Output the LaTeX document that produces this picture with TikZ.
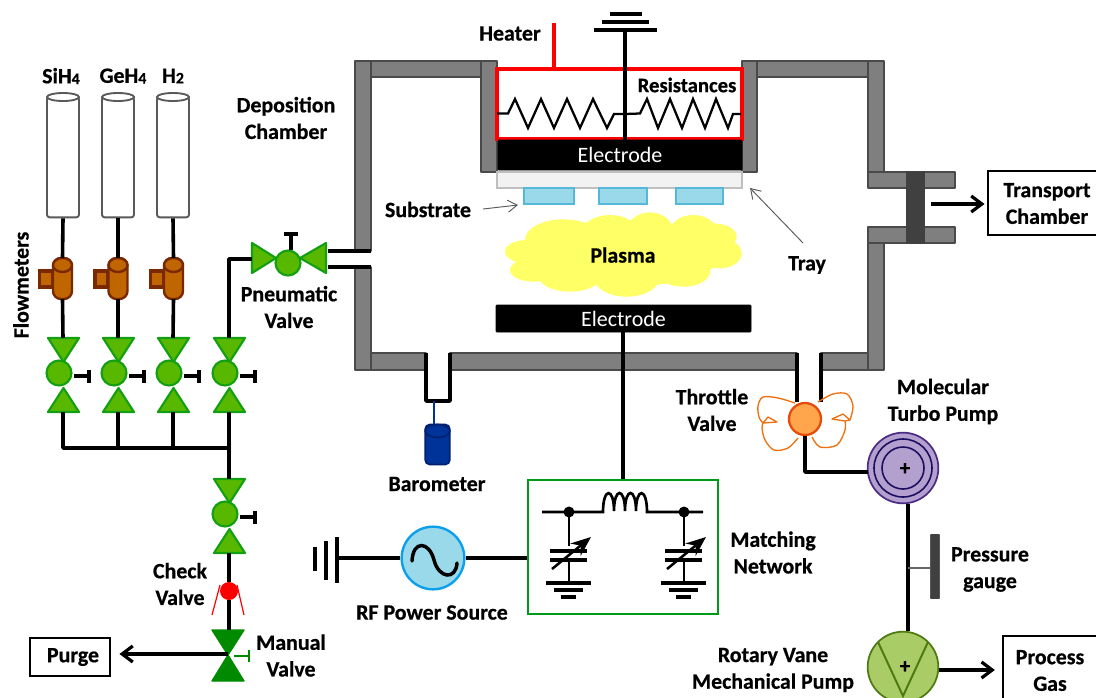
\documentclass[tikz,border=0pt]{standalone}
\usepackage{fontspec}
\setmainfont{Carlito}[BoldFeatures={FakeBold=0.6}]
\usetikzlibrary{arrows.meta,shapes.geometric,positioning,calc}
\definecolor{wallf}{HTML}{7F7F7F}
\definecolor{walld}{HTML}{4A4A4A}
\definecolor{gatef}{HTML}{404040}
\definecolor{vfill}{HTML}{58B800}
\definecolor{vline}{HTML}{12A012}
\definecolor{mgreen}{HTML}{008A00}
\definecolor{fmf}{HTML}{BF6600}
\definecolor{fmd}{HTML}{7A2800}
\definecolor{sky}{HTML}{99D9EA}
\definecolor{skyd}{HTML}{55B8D8}
\definecolor{rfl}{HTML}{0CA0EC}
\definecolor{plasma}{HTML}{FFFF66}
\definecolor{boxg}{HTML}{009A1A}
\definecolor{purpf}{HTML}{B4A0CF}
\definecolor{purpd}{HTML}{4B2E83}
\definecolor{purpi}{HTML}{1D0F5F}
\definecolor{ropf}{HTML}{A9CC66}
\definecolor{ropd}{HTML}{4E7A12}
\definecolor{thrf}{HTML}{FFA64D}
\definecolor{thrd}{HTML}{E84A0C}
\definecolor{thrw}{HTML}{F07010}
\definecolor{barof}{HTML}{003399}
\definecolor{barod}{HTML}{002070}
\newcommand{\subn}[1]{\raisebox{-0.5pt}{\fontsize{12}{12}\selectfont #1}}
\tikzset{
  x=0.75pt,y=-0.75pt,
  conn/.style={draw=black,line width=2.7pt,line join=round},
  wall/.style={fill=wallf,draw=walld,line width=1.2pt,line join=round},
  gate/.style={fill=gatef,draw=gatef,line width=0.8pt},
  vlv/.style={fill=vfill,draw=vline,line width=1.6pt,line join=round},
  mvlv/.style={fill=mgreen,draw=mgreen,line width=1pt,line join=round},
  fm/.style={fill=fmf,draw=fmd,line width=1.8pt},
  lab/.style={font=\bfseries\fontsize{16.4}{20}\selectfont,align=center,inner sep=0pt,text=black},
  elec/.style={fill=black,draw=black,text=white,font=\fontsize{16.5}{20}\selectfont,inner sep=0pt,rounded corners=0.5pt},
  boxn/.style={draw=black,line width=1.2pt,fill=white,inner sep=0pt,align=center,font=\bfseries\fontsize{16.4}{20}\selectfont},
  sub/.style={fill=sky,draw=skyd,line width=1.3pt,minimum height=12pt,inner sep=0pt},
  cylb/.style={fill=white,draw=black!65,line width=1.4pt,minimum width=24pt,minimum height=90.5pt,inner sep=0pt,rounded corners=2pt},
  barb/.style={-{Straight Barb[length=8pt,width=12pt,line width=2.4pt]}},
  fine/.style={draw=black!65,line width=0.7pt,-{Straight Barb[length=7pt,width=9pt,line width=0.7pt]}},
  valve/.pic={
    \draw[vlv] (-15,0)--(16,0)--(0.5,24)--cycle;
    \draw[vlv] (-15,74)--(16,74)--(0.5,50)--cycle;
    \draw[vlv] (-4,35) circle (12.5);
    \draw[conn] (11,38)--(26,38);
    \draw[conn] (26,32)--(26,45);
    \coordinate (-top) at (0,0);
    \coordinate (-bot) at (0,74);
  },
  flowm/.pic={
    \draw[fm,line width=2.6pt] (-23,13) rectangle (-10,29);
    \draw[fm,rounded corners=6pt] (-9.5,0) rectangle (9.5,41);
    \draw[fm] (0,7) ellipse (9.5 and 7);
    \coordinate (-top) at (0,0);
    \coordinate (-bot) at (0,41);
  },
  capgnd/.pic={
    \draw[line width=2.1pt] (0,0)--(0,34);
    \draw[line width=2.1pt] (0,48)--(0,71);
    \draw[line width=3.2pt] (-19,39)--(18,39);
    \draw[line width=3.2pt] (-19,48)--(18,48);
    \draw[line width=3.2pt] (-23,71)--(22,71);
    \draw[line width=3.2pt] (-15,78)--(14,78);
    \draw[line width=3.2pt] (-8,85)--(7,85);
    \draw[line width=1.9pt,-{Stealth[length=15pt,width=12pt]}] (-17,57)--(22,25);
    \fill (0,0) circle (5.5);
  },
}
\begin{document}
\begin{tikzpicture}
\useasboundingbox (0,0) rectangle (1096,697);
\clip (0,0) rectangle (1096,697);
\fill[white] (0,0) rectangle (1096,697);

% chamber walls
\draw[wall] (371,61) rectangle (481,77);
\draw[wall] (757,61) rectangle (868,77);
\draw[wall] (355,61) rectangle (371,251);
\draw[wall] (355,267) rectangle (371,370);
\draw[wall] (481,61) rectangle (497,172);
\draw[wall] (742,61) rectangle (757,172);
\draw[wall] (868,61) rectangle (884,172);
\draw[wall] (868,243) rectangle (884,370);
\draw[wall] (371,353) rectangle (426,370);
\draw[wall] (450,353) rectangle (797,370);
\draw[wall] (821,353) rectangle (868,370);
\draw[wall] (868,172) rectangle (955,188);
\draw[wall] (868,227) rectangle (955,243);
\draw[gate] (907,172) rectangle (924,243);

% heater, electrodes, tray, substrates
\node[draw=red,line width=2.4pt,fill=white,minimum width=183.75pt,minimum height=52.5pt,inner sep=0pt] (heat) at (619.5,104) {};
\node[elec,minimum width=183pt,minimum height=22.5pt] (eu) at (620,155) {Electrode};
\node[fill=black!5,draw=black!25,line width=1.3pt,minimum width=183.75pt,minimum height=12pt,inner sep=0pt] (tray) at (619.5,180) {};
\node[sub,minimum width=37.5pt] (s1) at (549,196) {};
\node[sub,minimum width=36pt] (s2) at (623,196) {};
\node[sub,minimum width=35.25pt] (s3) at (699.5,196) {};
\node[elec,minimum width=191.25pt,minimum height=20.25pt] (el) at (623.5,318.5) {Electrode};

% heater feed and top ground
\coordinate (hfeed) at (554,23);
\draw[draw=red,line width=2.6pt] (hfeed)--(hfeed|-heat.north);
\coordinate (gtop) at (625,30);
\draw[line width=3pt] (594,30)--(657,30);
\draw[line width=2.8pt] (602,22)--(649,22);
\draw[line width=2.8pt] (610,14)--(642,14);
\draw[conn] (gtop)--(gtop|-eu.north);

% resistors
\draw[line width=1.7pt,line join=miter] (497,113.5)--(508,113.5)--(515,99)--(528,128)--(541,99)--(554,128)--(567,99)--(580,128)--(593,99)--(607,128)--(614,114)--(625,114)--(640,113.5)--(647,99)--(658,128)--(670,99)--(682,128)--(693,99)--(705,128)--(716,99)--(728,128)--(733,114)--(741,114);
\node[font=\bfseries\fontsize{15.5}{18}\selectfont,inner sep=0pt] (res) at (687,85) {Resistances};

% plasma cloud
\begin{scope}[shift={(350,0)},x=0.25pt,y=-0.25pt]
\fill[plasma] (640,720) ellipse (115 and 62) (780,700) ellipse (85 and 55)
 (900,695) ellipse (70 and 58) (1030,695) ellipse (70 and 50)
 (1090,710) ellipse (70 and 40) (1110,760) ellipse (65 and 45)
 (1000,815) ellipse (80 and 45) (830,830) ellipse (100 and 60)
 (660,820) ellipse (100 and 55) (550,810) ellipse (70 and 35)
 (530,755) ellipse (65 and 35) (820,760) ellipse (300 and 100);
\end{scope}
\node[lab] (plasmaL) at (623,255) {Plasma};

% gas cylinders
\foreach \n/\cx in {c1/63,c2/118,c3/173}{
  \node[cylb] (\n) at (\cx,157) {};
  \draw[fill=white,draw=black!65,line width=1.4pt] (\cx,97) ellipse (16 and 4);
}
\node[lab] (lsi) at (61,76) {SiH\subn{4}};
\node[lab] (lge) at (123,76) {GeH\subn{4}};
\node[lab] (lh) at (173,76) {H\subn{2}};

% flowmeters
\pic (f1) at (62.5,258) {flowm};
\pic (f2) at (118,258) {flowm};
\pic (f3) at (173.5,258) {flowm};
% valves
\pic (v1) at (63,338) {valve};
\pic (v2) at (118,338) {valve};
\pic (v3) at (173,338) {valve};
\pic (v4) at (229,338) {valve};
\pic (v5) at (229,479) {valve};

\foreach \i in {1,2,3}{
  \draw[conn] (c\i.south)--(f\i-top);
  \draw[conn] (f\i-bot)--(v\i-top);
}
\coordinate (hdr) at (229,448);
\draw[conn] (v1-bot)|-(hdr);
\draw[conn] (v2-bot)--(v2-bot|-hdr);
\draw[conn] (v3-bot)--(v3-bot|-hdr);
\draw[conn] (v4-bot)--(v5-top);

% pneumatic valve
\coordinate (pvl) at (252,259);
\draw[vlv] (252,243)--(252,273)--(276,258)--cycle;
\draw[vlv] (326,243)--(326,273)--(300,258)--cycle;
\draw[vlv] (288,263) circle (12.5);
\draw[conn] (291,250)--(291,234);
\draw[conn] (284,234)--(298,234);
\draw[conn] (v4-top)|-(pvl);
\coordinate (inA) at (371,251);
\coordinate (inB) at (371,267);
\draw[conn] (328,251)--(inA);
\draw[conn] (328,267)--(inB);

% check valve
\node[circle,fill=red,minimum size=13.5pt,inner sep=0pt] (cv) at (229,591) {};
\draw[red,line width=0.9pt] (220,585)--(212,615);
\draw[red,line width=0.9pt] (237,585)--(244,615);
% manual valve
\coordinate (mv) at (228,655);
\coordinate (mvt) at (229,630);
\draw[mvlv] (212,630)--(244,630)--(228,655)--cycle;
\draw[mvlv] (212,681)--(244,681)--(228,655)--cycle;
\draw[mgreen,line width=1.8pt] (234,656)--(249,656);
\draw[mgreen,line width=1.8pt] (249,650)--(249,662);
\draw[conn] (v5-bot)--(cv);
\draw[conn] (cv)--(mvt);
\node[boxn,minimum width=60pt,minimum height=28.5pt] (purge) at (70,657) {\hspace*{4.5pt}Purge};
\draw[draw=black,line width=2.5pt,barb,shorten >=6.5pt] (mv|-0,654)--(purge.east|-0,654);

% barometer
\draw[conn] (426,353)--(426,401)--(450,401)--(450,353);
\coordinate (bport) at (434,401);
\node[fill=barof,draw=barod,line width=1.3pt,rounded corners=3.5pt,minimum width=18.5pt,minimum height=30pt,inner sep=0pt] (baro) at (437.5,444.5) {};
\draw[fill=barof,draw=barod,line width=1.3pt] (437.5,431) ellipse (12.3 and 6.5);
\draw[draw=barof,line width=1.5pt] (bport)--(bport|-baro.north);

% throttle valve port and wings
\draw[conn,line width=2.4pt] (797,353)--(797,402);
\draw[conn,line width=2.4pt] (821,353)--(821,402);
\begin{scope}[thrw,line width=1pt,line join=round]
\draw plot[smooth,tension=0.55] coordinates {(795,403)(778,398)(763,397)(758,406)(759,417)(763,423)};
\draw (763,423)--(768,417)--(777,422)--cycle;
\draw plot[smooth,tension=0.55] coordinates {(763,423)(762,428)(765,440)(774,450)(788,448)(798,438)};
\draw plot[smooth,tension=0.55] coordinates {(818,402)(833,394)(847,394)(853,406)(850,420)};
\draw (850,420)--(843,414)--(832,419)--(845,421)--cycle;
\draw plot[smooth,tension=0.55] coordinates {(845,421)(845,430)(837,445)(820,447)(812,437)};
\end{scope}
\node[circle,fill=thrf,draw=thrd,line width=1.7pt,minimum size=24pt,inner sep=0pt] (tv) at (805,419) {};

% turbo pump
\node[circle,fill=purpf,draw=purpd,line width=1.3pt,minimum size=53pt,inner sep=0pt] (tp) at (903,468) {};
\draw[purpi,line width=1.2pt] (tp) circle (29) (tp) circle (21);
\node[font=\bfseries\fontsize{16}{16}\selectfont,inner sep=0pt] (tpp) at (905,469) {+};
\coordinate (tpin) at (868,472);
\draw[conn] (tv.south)|-(tpin);

% rotary pump
\node[circle,fill=ropf,draw=ropd,line width=1.3pt,minimum size=53pt,inner sep=0pt] (rv) at (903,667) {};
\draw[ropd,line width=1.5pt] (878,642)--(903,696)--(928,642);
\node[font=\bfseries\fontsize{16}{16}\selectfont,inner sep=0pt] (rvp) at (905,667) {+};
\coordinate (tpo) at (908,504);
\coordinate (rvi) at (908,631);
\draw[conn] (tpo)--(rvi);

% pressure gauge
\node[fill=gatef,draw=gatef,rounded corners=0.5pt,minimum width=7pt,minimum height=48pt,inner sep=0pt] (pg) at (935,566.5) {};
\coordinate (pgj) at (908,568);
\draw[draw=black!60,line width=1.2pt] (pgj)--(pgj-|pg.west);

% process gas
\node[boxn,minimum width=75pt,minimum height=57pt] (gas) at (1053,674) {};
\node[lab] (gasL) at (1050,670.5) {Process\\Gas};
\coordinate (rvo) at (939,670);
\draw[draw=black,line width=2.5pt,barb,shorten >=5.5pt] (rvo)--(gas.west|-rvo);

% transport
\node[boxn,minimum width=84pt,minimum height=48pt] (trans) at (1044,203) {};
\node[lab] (transL) at (1047,203.5) {Transport\\Chamber};
\coordinate (gout) at (931,204);
\draw[draw=black,line width=2.5pt,barb,shorten >=2pt] (gout)--(trans.west|-gout);

% RF source
\node[circle,fill=sky,draw=rfl,line width=1.8pt,minimum size=47pt,inner sep=0pt] (rf) at (433,558) {};
\draw[line width=2.6pt,line cap=round] (412,561) .. controls (413,540) and (429,541) .. (434,560) .. controls (439,579) and (456,580) .. (457,563);
\coordinate (rfg) at (337,558);
\draw[conn] (rf.west)--(rfg);
\draw[line width=2.5pt] (337,537)--(337,583);
\draw[line width=2.5pt] (326,541)--(326,580);
\draw[line width=2.5pt] (315,547)--(315,571);

% matching network
\node[draw=boxg,line width=1.6pt,fill=white,minimum width=142.5pt,minimum height=100.5pt,inner sep=0pt] (mn) at (623,547) {};
\draw[conn] (rf.east)--(mn.west|-rf.east);
\draw[conn] (el.south-|mn.north)--(mn.north);
\draw[line width=2pt] (542,512)--(603,512) .. controls (603,487) and (614,487) .. (614,511) .. controls (614,487) and (625,487) .. (625,511) .. controls (625,487) and (636,487) .. (636,511) .. controls (636,487) and (647,487) .. (647,512)--(703,512);
\pic at (569,512) {capgnd};
\pic at (684,512) {capgnd};

% labels
\node[lab] (ldep) at (286,118) {Deposition\\Chamber};
\node[lab,rotate=90] (lflow) at (21,285) {Flowmeters};
\node[lab] (lpn) at (289,307) {Pneumatic\\Valve};
\node[lab] (lck) at (180,584) {Check\\Valve};
\node[lab] (lmv) at (291,655.5) {Manual\\Valve};
\node[lab] (lheat) at (510,33.5) {Heater};
\node[lab] (lsub) at (428,209.5) {Substrate};
\node[lab] (ltray) at (807,265) {Tray};
\node[lab] (lbar) at (437,484) {Barometer};
\node[lab] (lthr) at (712,410) {Throttle\\Valve};
\node[lab] (lmol) at (943,401.5) {Molecular\\Turbo Pump};
\node[lab] (lmat) at (773,552.5) {Matching\\Network};
\node[lab] (lpre) at (990,569.5) {Pressure\\gauge};
\node[lab] (lrot) at (773,670) {Rotary Vane\\Mechanical Pump};
\node[lab] (lrf) at (432,612.5) {RF Power Source};

% callouts
\coordinate (lsubt) at (518,205);
\coordinate (ltrt) at (750,188);
\draw[fine] (483,209)--(lsubt);
\draw[fine] (803,243)--(ltrt);
\end{tikzpicture}
\end{document}
